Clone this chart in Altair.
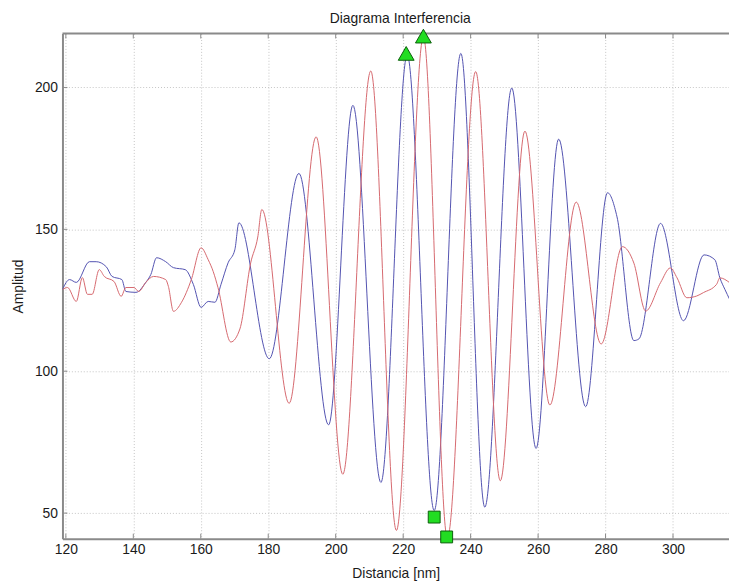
import altair as alt
import pandas as pd

# ---- data ----
blue_x = [119.0, 121.1, 123.1, 127.0, 129.0, 132.0, 133.7, 136.6, 137.8, 140.8, 143.7, 145.2,
          146.9, 149.6, 151.9, 155.4, 157.8, 160.1, 162.2, 164.2, 166.0, 168.1, 170.1, 171.3,
          180.3, 189.1, 197.9, 205.1, 213.4, 221.2, 229.2, 237.1, 244.2, 252.2, 259.4, 266.1,
          274.1, 280.6, 283.4, 288.4, 289.9, 296.3, 303.1, 309.2, 312.4, 313.9, 315.4, 316.8]
blue_y = [128.8, 132.3, 131.3, 138.6, 138.6, 136.8, 133.4, 132.3, 128.1, 127.8, 131.3, 134.1,
          140.0, 138.6, 136.5, 135.8, 130.6, 122.5, 124.6, 124.3, 130.6, 138.2, 142.8, 152.3,
          104.4, 169.7, 81.1, 193.7, 60.8, 211.4, 50.9, 212.0, 52.1, 199.8, 72.8, 181.8,
          87.5, 162.9, 154.4, 110.8, 111.4, 152.1, 117.8, 141.0, 139.3, 132.9, 128.8, 125.3]

red_x = [119.0, 120.5, 123.1, 124.9, 126.4, 127.8, 129.9, 131.4, 134.3, 136.4, 137.8, 140.2,
         141.6, 143.7, 146.0, 149.6, 150.4, 151.9, 154.3, 157.2, 160.1, 162.2, 163.7, 165.1,
         168.9, 171.6, 174.8, 176.9, 178.1, 186.2, 194.2, 202.1, 210.4, 218.0, 226.0, 233.1,
         241.5, 248.8, 256.1, 263.5, 271.3, 278.7, 285.0, 288.4, 291.9, 296.3, 299.2, 301.2,
         304.1, 307.0, 309.0, 312.9, 313.9, 316.8]
red_y = [128.8, 129.5, 124.6, 133.0, 127.1, 127.1, 135.8, 133.4, 131.6, 126.4, 129.5, 129.5,
         128.1, 131.3, 133.4, 132.3, 129.9, 121.1, 124.3, 132.3, 143.5, 139.3, 135.1, 129.5,
         110.3, 114.9, 138.2, 147.3, 157.0, 88.7, 182.6, 63.7, 205.8, 43.9, 217.8, 41.3,
         205.6, 61.4, 184.6, 88.1, 159.6, 109.6, 143.9, 138.1, 121.2, 131.2, 136.4, 132.9,
         125.9, 126.5, 127.7, 130.6, 132.9, 131.2]

max_x = [220.9, 226.0]
max_y = [212.0, 218.1]
min_x = [229.2, 232.9]
min_y = [48.6, 41.6]

x_ticks = [120, 140, 160, 180, 200, 220, 240, 260, 280, 300]
y_ticks = [50, 100, 150, 200]

title_text = "Diagrama Interferencia"

# ---- layout / style ----
W, H = 673, 510
X_DOM = [119.0, 316.6]
Y_DOM = [41.0, 219.0]
BLUE = "#5252b0"
RED = "#d6686e"
GREEN = "#22dd22"
GREEN_EDGE = "#0b5e0b"
FRAME = "#8a8a8a"
FONT = "Liberation Sans"

xs = alt.Scale(domain=X_DOM, nice=False, zero=False)
ys = alt.Scale(domain=Y_DOM, nice=False, zero=False)
x_axis = alt.Axis(values=x_ticks, title="Distancia [nm]", labelPadding=4, titlePadding=10)
y_axis = alt.Axis(values=y_ticks, title="Amplitud", labelPadding=5, titlePadding=9)


def X(field):
    return alt.X(field, type="quantitative", scale=xs, axis=x_axis, title="Distancia [nm]")


def Y(field):
    return alt.Y(field, type="quantitative", scale=ys, axis=y_axis, title="Amplitud")


lines_df = pd.DataFrame({
    "x": blue_x + red_x,
    "y": blue_y + red_y,
    "serie": ["Azul"] * len(blue_x) + ["Rojo"] * len(red_x),
    "ord": list(range(len(blue_x))) + list(range(len(red_x))),
})

lines = alt.Chart(lines_df).mark_line(strokeWidth=1, interpolate="monotone", clip=True).encode(
    x=X("x"),
    y=Y("y"),
    color=alt.Color("serie:N", scale=alt.Scale(domain=["Azul", "Rojo"], range=[BLUE, RED]), legend=None),
    order=alt.Order("ord:Q"),
)

xt_df = pd.DataFrame({"x": x_ticks})
yt_df = pd.DataFrame({"y": y_ticks})

xt_bottom = alt.Chart(xt_df).mark_rule(color=FRAME, strokeWidth=1).encode(
    x=X("x"), y=alt.value(H), y2=alt.value(H - 5))
xt_top = alt.Chart(xt_df).mark_rule(color=FRAME, strokeWidth=1).encode(
    x=X("x"), y=alt.value(0), y2=alt.value(5))
yt_left = alt.Chart(yt_df).mark_rule(color=FRAME, strokeWidth=1).encode(
    y=Y("y"), x=alt.value(0), x2=alt.value(5))

one_row = pd.DataFrame({"t": [title_text]})

top_border = alt.Chart(one_row).mark_rule(color=FRAME, strokeWidth=2).encode(
    x=alt.value(0), x2=alt.value(W), y=alt.value(0))

title = alt.Chart(one_row).mark_text(font=FONT, fontSize=14, color="#1a1a1a", align="center",
                                     baseline="alphabetic").encode(
    text="t:N", x=alt.value(341), y=alt.value(-10.5))

max_df = pd.DataFrame({"x": max_x, "y": max_y})
min_df = pd.DataFrame({"x": min_x, "y": min_y})

tri = alt.Chart(max_df).mark_point(shape="triangle-up", filled=True, fill=GREEN, stroke=GREEN_EDGE,
                                   strokeWidth=1, size=256, opacity=1).encode(x=X("x"), y=Y("y"))
sq = alt.Chart(min_df).mark_point(shape="square", filled=True, fill=GREEN, stroke=GREEN_EDGE,
                                  strokeWidth=1, size=144, opacity=1).encode(x=X("x"), y=Y("y"))

chart = alt.layer(lines, xt_bottom, xt_top, yt_left, top_border, title, tri, sq).properties(
    width=W,
    height=H,
    autosize=alt.AutoSizeParams(type="none"),
    padding={"left": 55, "top": 23, "right": 0, "bottom": 44},
).configure_view(stroke=None).configure_axis(
    grid=True, gridColor="#c4c4c4", gridDash=[1, 2], gridWidth=1,
    domainColor=FRAME, domainWidth=2, tickSize=0,
    labelFont=FONT, labelFontSize=14, labelColor="#1a1a1a",
    titleFont=FONT, titleFontSize=14, titleFontWeight="normal", titleColor="#1a1a1a",
)

chart.save("out.html", embed_options={"renderer": "svg", "actions": False})
